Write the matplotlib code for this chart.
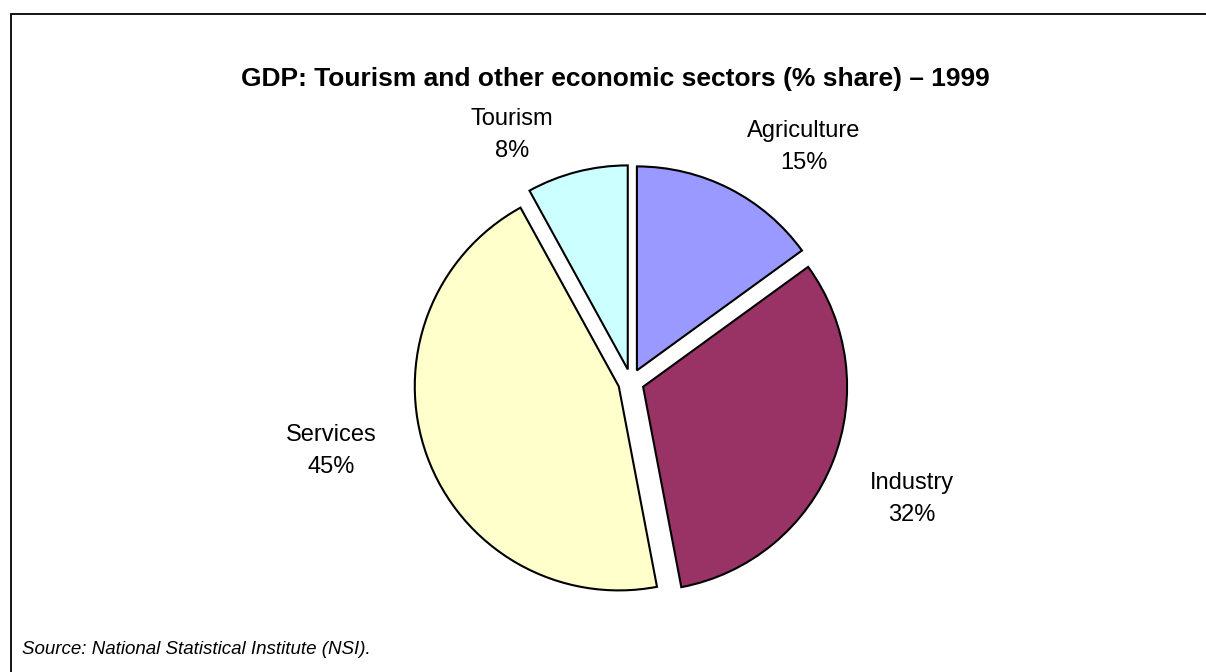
import matplotlib
matplotlib.use("Agg")
import matplotlib.pyplot as plt
from matplotlib.patches import Rectangle

# GDP shares by sector, 1999 (clockwise from 12 o'clock)
sectors = ["Agriculture", "Industry", "Services", "Tourism"]
shares = [15, 32, 45, 8]
colors = ["#9999FF", "#993366", "#FFFFCC", "#CCFFFF"]

title = "GDP: Tourism and other economic sectors (% share) \u2013 1999"
source = "Source: National Statistical Institute (NSI)."

W, H = 1206, 672
plt.rcParams["font.family"] = ["Liberation Sans", "DejaVu Sans"]

fig = plt.figure(figsize=(W / 100, H / 100), dpi=100)
ax = fig.add_axes([0, 0, 1, 1])
ax.set_xlim(0, W)
ax.set_ylim(0, H)
ax.set_aspect("equal")
ax.axis("off")

# outer frame (open to the right and bottom edges)
ax.add_patch(Rectangle((11, -20), W + 40, H - 14 + 20, fill=False,
                       edgecolor="black", linewidth=1.3))

center = (631, H - 382)
radius = 204
gap = 13

wedges, _ = ax.pie(shares, colors=colors, startangle=90, counterclock=False,
                   center=center, radius=radius, explode=[gap] * len(shares),
                   wedgeprops=dict(edgecolor="black", linewidth=1.5))
ax.set_xlim(0, W)
ax.set_ylim(0, H)

# label anchors (pixel positions, y measured from top)
label_pos = {
    "Agriculture": (804, 131),
    "Industry": (912, 483),
    "Services": (331, 435),
    "Tourism": (512, 119),
}
line_gap = 32
for name, val in zip(sectors, shares):
    x, y = label_pos[name]
    ax.text(x, H - y, name, ha="center", va="center", fontsize=17, color="black")
    ax.text(x, H - y - line_gap, f"{val}%", ha="center", va="center",
            fontsize=17, color="black")

ax.text(615, H - 79, title, ha="center", va="center", fontsize=19,
        fontweight="bold", color="black")
ax.text(22, H - 650, source, ha="left", va="center", fontsize=13.5,
        fontstyle="italic", color="black")

fig.savefig("out.png", dpi=100)
